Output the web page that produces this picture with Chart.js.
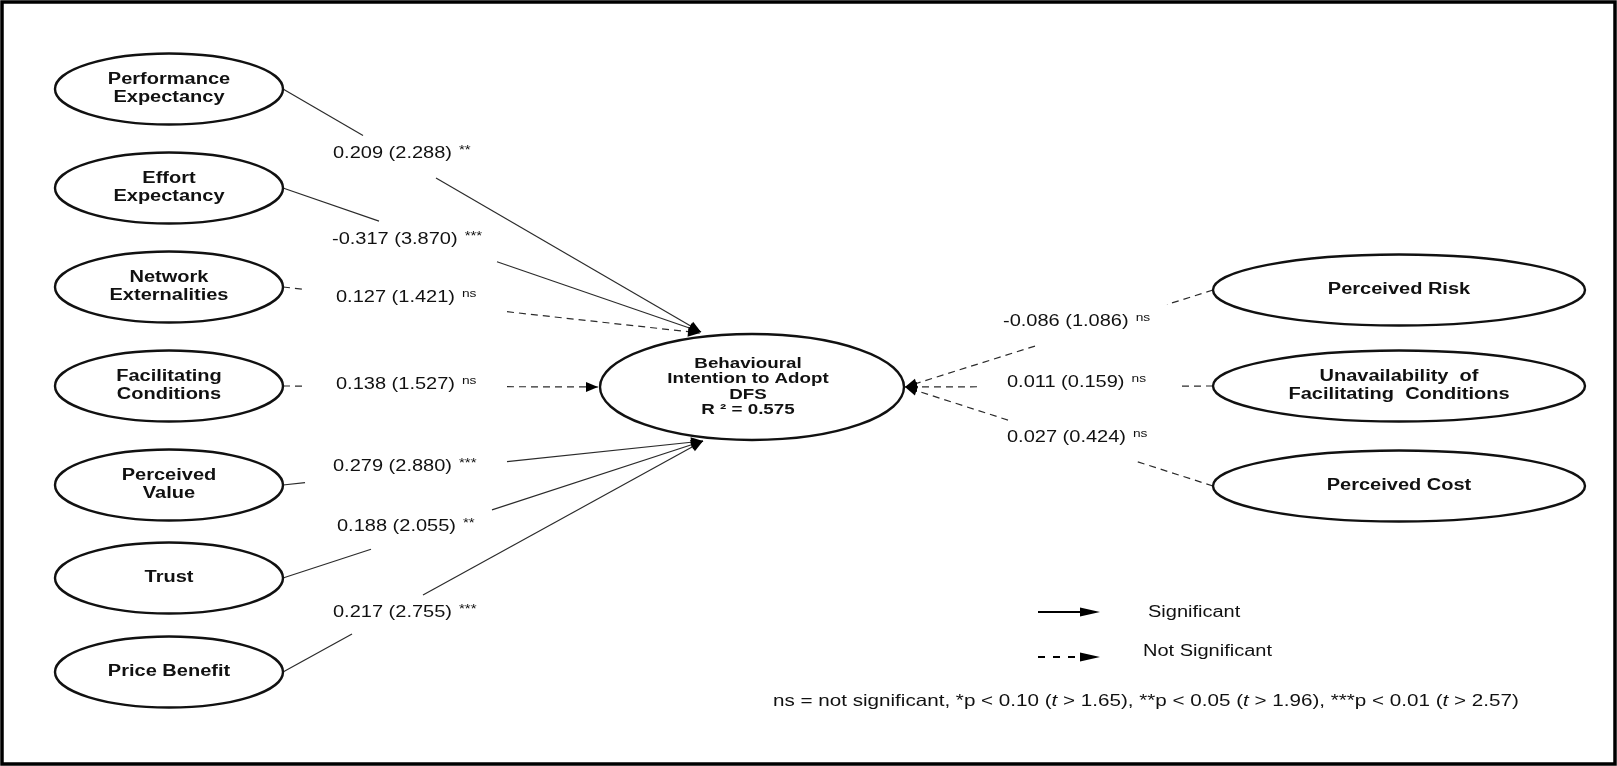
<!DOCTYPE html>
<html>
<head>
<meta charset="utf-8">
<script src="https://cdn.jsdelivr.net/npm/chart.js@4.4.1/dist/chart.umd.min.js"></script>
<style>
  html, body { margin: 0; padding: 0; background: #fff; }
  #wrap { width: 1617px; height: 766px; }
</style>
</head>
<body>
<div id="wrap"><canvas id="myChart" width="1617" height="766"></canvas></div>
<script>
// constructs (each entry = lines of the ellipse label)
const constructs = [
  ['Performance', 'Expectancy'],
  ['Effort', 'Expectancy'],
  ['Network', 'Externalities'],
  ['Facilitating', 'Conditions'],
  ['Perceived', 'Value'],
  ['Trust'],
  ['Price Benefit'],
  ['Perceived Risk'],
  ['Unavailability  of', 'Facilitating  Conditions'],
  ['Perceived Cost']
];
const coefficients = [0.209, -0.317, 0.127, 0.138, 0.279, 0.188, 0.217, -0.086, 0.011, 0.027];
const tValues = [2.288, 3.870, 1.421, 1.527, 2.880, 2.055, 2.755, 1.086, 0.159, 0.424];
const significance = ['**', '***', 'ns', 'ns', '***', '**', '***', 'ns', 'ns', 'ns'];
const outcome = ['Behavioural', 'Intention to Adopt', 'DFS'];
const rSquared = 0.575;
const legendLabels = ['Significant', 'Not Significant'];

// layout, in page pixels (the axes run 0..1617 and 0..766)
const nodeX = [169, 169, 169, 169, 169, 169, 169, 1399, 1399, 1399];
const nodeY = [89, 188, 287, 386, 485, 578, 672, 290, 386, 486];
const nodeRx = [114, 114, 114, 114, 114, 114, 114, 186, 186, 186];
const nodeRy = 35.5;
const outX = 752, outY = 387, outRx = 152, outRy = 53;
const tips = [[701, 332], [701, 332], [700, 333], [598, 387], [703, 441], [703, 441], [703, 441],
              [905, 387], [905, 387], [905, 387]];
const gaps = [[363, 436], [379, 497], [305, 507], [305, 507], [305, 507], [371, 492], [352, 423],
              [1167, 1035], [1182, 977], [1135, 1008]];
const labelX = [333, 332, 336, 336, 333, 337, 333, 1003, 1007, 1007];
const labelY = [154, 240, 298, 385, 467, 527, 613, 322, 383, 438];

const SX = 1.25; // the original figure is stretched sideways
const FONT = '"Liberation Sans", Arial, sans-serif';
const INK = '#111';
const LINE = '#2b2b2b';

function startOf(i) {
  const left = i < 7;
  return [left ? nodeX[i] + nodeRx[i] : nodeX[i] - nodeRx[i], nodeY[i]];
}
function onLine(i, x) {
  const [x0, y0] = startOf(i);
  const [x1, y1] = tips[i];
  return { x: x, y: y0 + (x - x0) * (y1 - y0) / (x1 - x0) };
}

const datasets = [];
constructs.forEach((c, i) => {
  const [x0, y0] = startOf(i);
  const dash = significance[i] === 'ns' ? [7, 5] : [];
  const common = { showLine: true, pointRadius: 0, borderColor: LINE, borderWidth: 1.2, borderDash: dash };
  datasets.push(Object.assign({ data: [{ x: x0, y: y0 }, onLine(i, gaps[i][0])] }, common));
  datasets.push(Object.assign({ data: [onLine(i, gaps[i][1]), { x: tips[i][0], y: tips[i][1] }] }, common));
});

function sText(ctx, s, x, y, align) {
  ctx.save();
  ctx.translate(x, y);
  ctx.scale(SX, 1);
  ctx.textAlign = align || 'left';
  ctx.fillText(s, 0, 0);
  const w = ctx.measureText(s).width * SX;
  ctx.restore();
  return w;
}

function arrowHead(ctx, fx, fy, tx, ty, len, half) {
  const a = Math.atan2(ty - fy, tx - fx);
  ctx.beginPath();
  ctx.moveTo(tx, ty);
  ctx.lineTo(tx - len * Math.cos(a) + half * Math.sin(a), ty - len * Math.sin(a) - half * Math.cos(a));
  ctx.lineTo(tx - len * Math.cos(a) - half * Math.sin(a), ty - len * Math.sin(a) + half * Math.cos(a));
  ctx.closePath();
  ctx.fill();
}

const diagram = {
  id: 'diagram',
  afterDatasetsDraw(chart) {
    const ctx = chart.ctx;
    const X = v => chart.scales.x.getPixelForValue(v);
    const Y = v => chart.scales.y.getPixelForValue(v);
    ctx.save();
    ctx.fillStyle = INK;
    ctx.strokeStyle = INK;
    ctx.textBaseline = 'middle';

    // ellipses + names
    ctx.lineWidth = 2.4;
    constructs.forEach((c, i) => {
      ctx.beginPath();
      ctx.ellipse(X(nodeX[i]), Y(nodeY[i]), nodeRx[i], nodeRy, 0, 0, Math.PI * 2);
      ctx.stroke();
      ctx.font = 'bold 16px ' + FONT;
      const top = nodeY[i] - (c.length - 1) * 9;
      c.forEach((line, k) => sText(ctx, line, X(nodeX[i]), Y(top + k * 18), 'center'));
    });
    ctx.beginPath();
    ctx.ellipse(X(outX), Y(outY), outRx, outRy, 0, 0, Math.PI * 2);
    ctx.stroke();
    ctx.font = 'bold 15px ' + FONT;
    const outLines = outcome.concat(['R \u00B2 = ' + rSquared.toFixed(3)]);
    outLines.forEach((line, k) => sText(ctx, line, X(outX - 4), Y(outY - 23.5 + k * 15.5), 'center'));

    // arrow heads
    ctx.fillStyle = '#000';
    constructs.forEach((c, i) => {
      const [x0, y0] = startOf(i);
      arrowHead(ctx, X(x0), Y(y0), X(tips[i][0]), Y(tips[i][1]), 12, 5);
    });

    // path labels
    ctx.fillStyle = INK;
    constructs.forEach((c, i) => {
      ctx.font = '16px ' + FONT;
      const s = coefficients[i].toFixed(3) + ' (' + tValues[i].toFixed(3) + ')';
      const w = sText(ctx, s, X(labelX[i]), Y(labelY[i]));
      const ns = significance[i] === 'ns';
      ctx.font = (ns ? '11px ' : '12px ') + FONT;
      sText(ctx, significance[i], X(labelX[i]) + w + 7, Y(labelY[i] - (ns ? 4 : 3)));
    });

    // legend
    ctx.strokeStyle = '#000';
    ctx.fillStyle = '#000';
    ctx.lineWidth = 1.8;
    ctx.beginPath();
    ctx.moveTo(X(1038), Y(612));
    ctx.lineTo(X(1080), Y(612));
    ctx.stroke();
    arrowHead(ctx, X(1038), Y(612), X(1100), Y(612), 20, 4.5);
    ctx.setLineDash([7, 8]);
    ctx.beginPath();
    ctx.moveTo(X(1038), Y(657));
    ctx.lineTo(X(1080), Y(657));
    ctx.stroke();
    ctx.setLineDash([]);
    arrowHead(ctx, X(1038), Y(657), X(1100), Y(657), 20, 4.5);
    ctx.fillStyle = INK;
    ctx.font = '16px ' + FONT;
    sText(ctx, legendLabels[0], X(1148), Y(613));
    sText(ctx, legendLabels[1], X(1143), Y(652));

    // footnote, t in italics
    const parts = [['ns = not significant, *p < 0.10 (', false], ['t', true], [' > 1.65), **p < 0.05 (', false],
                   ['t', true], [' > 1.96), ***p < 0.01 (', false], ['t', true], [' > 2.57)', false]];
    let fx = X(773);
    parts.forEach(([s, it]) => {
      ctx.font = (it ? 'italic ' : '') + '16.5px ' + FONT;
      fx += sText(ctx, s, fx, Y(701));
    });

    // frame
    ctx.strokeStyle = '#000';
    ctx.lineWidth = 3.5;
    ctx.strokeRect(2, 2, 1613, 762);
    ctx.restore();
  }
};

const chart = new Chart(document.getElementById('myChart'), {
  type: 'scatter',
  data: { datasets: datasets },
  options: {
    responsive: false,
    animation: false,
    events: [],
    layout: { padding: 0 },
    plugins: { legend: { display: false }, tooltip: { enabled: false } },
    scales: {
      x: { type: 'linear', min: 0, max: 1617, display: false },
      y: { type: 'linear', min: 0, max: 766, reverse: true, display: false }
    }
  },
  plugins: [diagram]
});
</script>
</body>
</html>
